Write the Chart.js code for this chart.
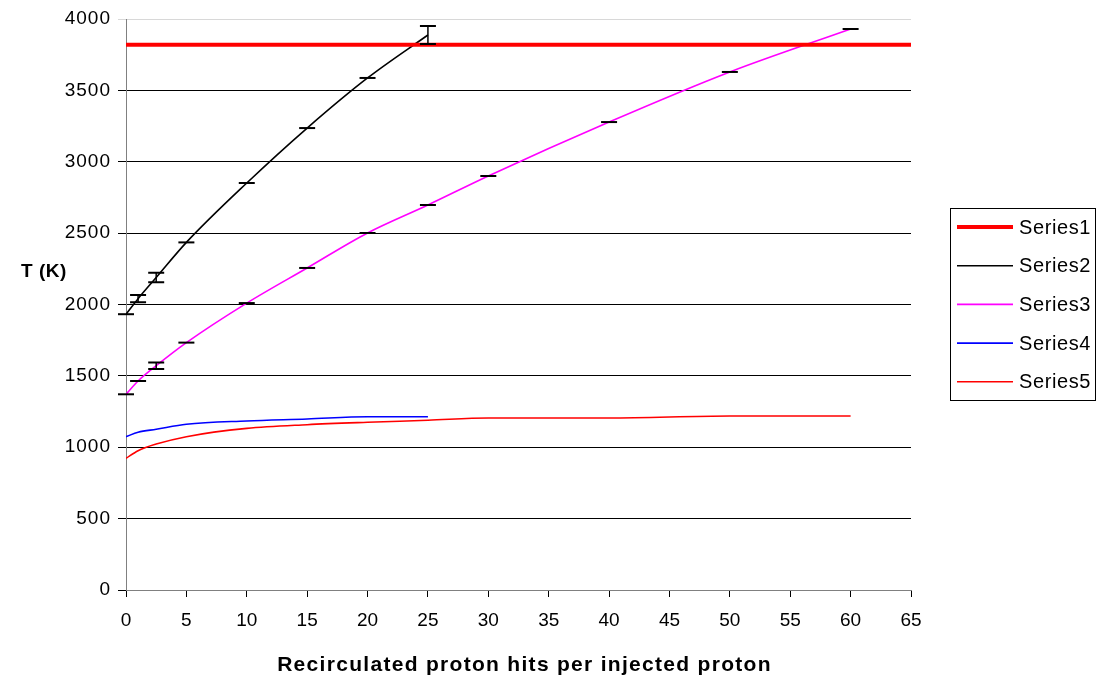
<!DOCTYPE html>
<html>
<head>
<meta charset="utf-8">
<script src="https://cdn.jsdelivr.net/npm/chart.js@4.4.1/dist/chart.umd.min.js"></script>
<style>
  html, body { margin: 0; padding: 0; background: #fff; }
  #wrap { width: 1096px; height: 682px; }
</style>
</head>
<body>
<div id="wrap"><canvas id="myChart" width="1096" height="682"></canvas></div>
<script>
// Values
const xTicks = [0, 5, 10, 15, 20, 25, 30, 35, 40, 45, 50, 55, 60, 65];
const yTicks = [0, 500, 1000, 1500, 2000, 2500, 3000, 3500, 4000];

const series1X = [0, 65];
const series1Y = [3820, 3820];

const series2X = [0, 1, 2.5, 5, 10, 15, 20, 25];
const series2Y = [1932, 2041, 2189, 2435, 2851, 3236, 3587, 3888];
const series2Err = [0, 26, 34, 0, 0, 0, 0, 63];

const series3X = [0, 1, 2.5, 5, 10, 15, 20, 25, 30, 40, 50, 60];
const series3Y = [1371, 1464, 1571, 1733, 2010, 2256, 2501, 2697, 2900, 3278, 3629, 3930];
const series3Err = [0, 0, 22, 0, 0, 0, 0, 0, 0, 0, 0, 0];

const series4X = [0, 1, 2.5, 5, 10, 15, 20, 25];
const series4Y = [1074, 1105, 1126, 1161, 1184, 1198, 1214, 1214];

const series5X = [0, 1, 2.5, 5, 10, 15, 20, 25, 30, 40, 50, 60];
const series5Y = [922, 976, 1022, 1074, 1132, 1158, 1175, 1189, 1205, 1205, 1219, 1219];

const names = ['Series1', 'Series2', 'Series3', 'Series4', 'Series5'];
const colors = ['#ff0000', '#000000', '#ff00ff', '#0000ff', '#ff0000'];
const widths = [4, 1.6, 1.6, 1.6, 1.6];

const xTitle = 'Recirculated proton hits per injected proton';
const yTitle = 'T (K)';

const FONT = '"Liberation Sans", Arial, sans-serif';

function pts(xs, ys) {
    return xs.map((x, i) => ({ x, y: ys[i] }));
}

// Draw error bars (caps) for series with errors
const errorBars = {
    id: 'errorBars',
    afterDatasetsDraw(chart) {
        const ctx = chart.ctx;
        const xs = chart.scales.x, ys = chart.scales.y;
        chart.data.datasets.forEach(ds => {
            if (!ds.errors) return;
            ctx.save();
            ctx.strokeStyle = '#000';
            ds.data.forEach((p, i) => {
                const e = ds.errors[i];
                const px = xs.getPixelForValue(p.x);
                const top = ys.getPixelForValue(p.y + e);
                const bot = ys.getPixelForValue(p.y - e);
                ctx.lineWidth = 2;
                ctx.beginPath();
                ctx.moveTo(px - 8, top); ctx.lineTo(px + 8, top);
                if (e > 0) {
                    ctx.moveTo(px - 8, bot); ctx.lineTo(px + 8, bot);
                }
                ctx.stroke();
                if (e > 0) {
                    ctx.lineWidth = 1.5;
                    ctx.beginPath();
                    ctx.moveTo(px, top); ctx.lineTo(px, bot);
                    ctx.stroke();
                }
            });
            ctx.restore();
        });
    }
};

// Y tick labels (spaced), axis titles and boxed legend
const extras = {
    id: 'extras',
    afterDraw(chart) {
        const ctx = chart.ctx;
        const area = chart.chartArea;
        const ys = chart.scales.y;
        ctx.save();
        ctx.fillStyle = '#000';
        ctx.textBaseline = 'middle';

        ctx.font = '19px ' + FONT;
        ctx.letterSpacing = '1px';
        ctx.textAlign = 'right';
        yTicks.forEach(v => {
            ctx.fillText(String(v), area.left - 15, ys.getPixelForValue(v));
        });

        ctx.font = 'bold 19px ' + FONT;
        ctx.letterSpacing = '0.5px';
        ctx.textAlign = 'left';
        ctx.fillText(yTitle, 21, 272);

        ctx.font = 'bold 21px ' + FONT;
        ctx.letterSpacing = '1.3px';
        ctx.textAlign = 'center';
        ctx.fillText(xTitle, (area.left + area.right) / 2 + 6, 665);

        // legend box
        ctx.strokeStyle = '#000';
        ctx.lineWidth = 1;
        ctx.strokeRect(950.5, 208.5, 145, 192);
        ctx.font = '20px ' + FONT;
        ctx.letterSpacing = '0.6px';
        ctx.textAlign = 'left';
        names.forEach((n, i) => {
            const y = 227 + i * 38.7;
            ctx.strokeStyle = colors[i];
            ctx.lineWidth = widths[i];
            ctx.beginPath();
            ctx.moveTo(957, y); ctx.lineTo(1013, y);
            ctx.stroke();
            ctx.fillText(n, 1019, y + 1);
        });
        ctx.restore();
    }
};

const datasets = [
    { label: names[0], data: pts(series1X, series1Y) },
    { label: names[1], data: pts(series2X, series2Y), errors: series2Err },
    { label: names[2], data: pts(series3X, series3Y), errors: series3Err },
    { label: names[3], data: pts(series4X, series4Y) },
    { label: names[4], data: pts(series5X, series5Y) }
].map((d, i) => Object.assign(d, {
    borderColor: colors[i],
    borderWidth: widths[i],
    pointRadius: 0,
    fill: false,
    tension: 0.4,
    cubicInterpolationMode: 'monotone'
}));

new Chart(document.getElementById('myChart').getContext('2d'), {
    type: 'line',
    data: { datasets },
    options: {
        responsive: false,
        animation: false,
        layout: { padding: { left: 0, right: 185, top: 19, bottom: 0 } },
        plugins: { legend: { display: false }, tooltip: { enabled: false } },
        scales: {
            x: {
                type: 'linear',
                min: 0, max: 65,
                afterBuildTicks: s => { s.ticks = xTicks.map(v => ({ value: v })); },
                afterFit: s => { s.height = 92; },
                ticks: {
                    color: '#000', font: { family: FONT, size: 19 }, padding: 12, maxRotation: 0,
                    callback: v => String(v)
                },
                grid: { display: true, drawOnChartArea: false, drawTicks: true, tickLength: 7, color: '#000' },
                border: { color: '#808080', width: 1 }
            },
            y: {
                type: 'linear',
                min: 0, max: 4000,
                afterBuildTicks: s => { s.ticks = yTicks.map(v => ({ value: v })); },
                afterFit: s => { s.width = 126; s.paddingTop = 0; s.paddingBottom = 0; },
                ticks: { display: false },
                grid: {
                    color: c => (c.tick && c.tick.value === 4000) ? '#d8d8d8' : '#000',
                    lineWidth: 1,
                    tickLength: 8
                },
                border: { color: '#808080', width: 1 }
            }
        }
    },
    plugins: [errorBars, extras]
});
</script>
</body>
</html>
